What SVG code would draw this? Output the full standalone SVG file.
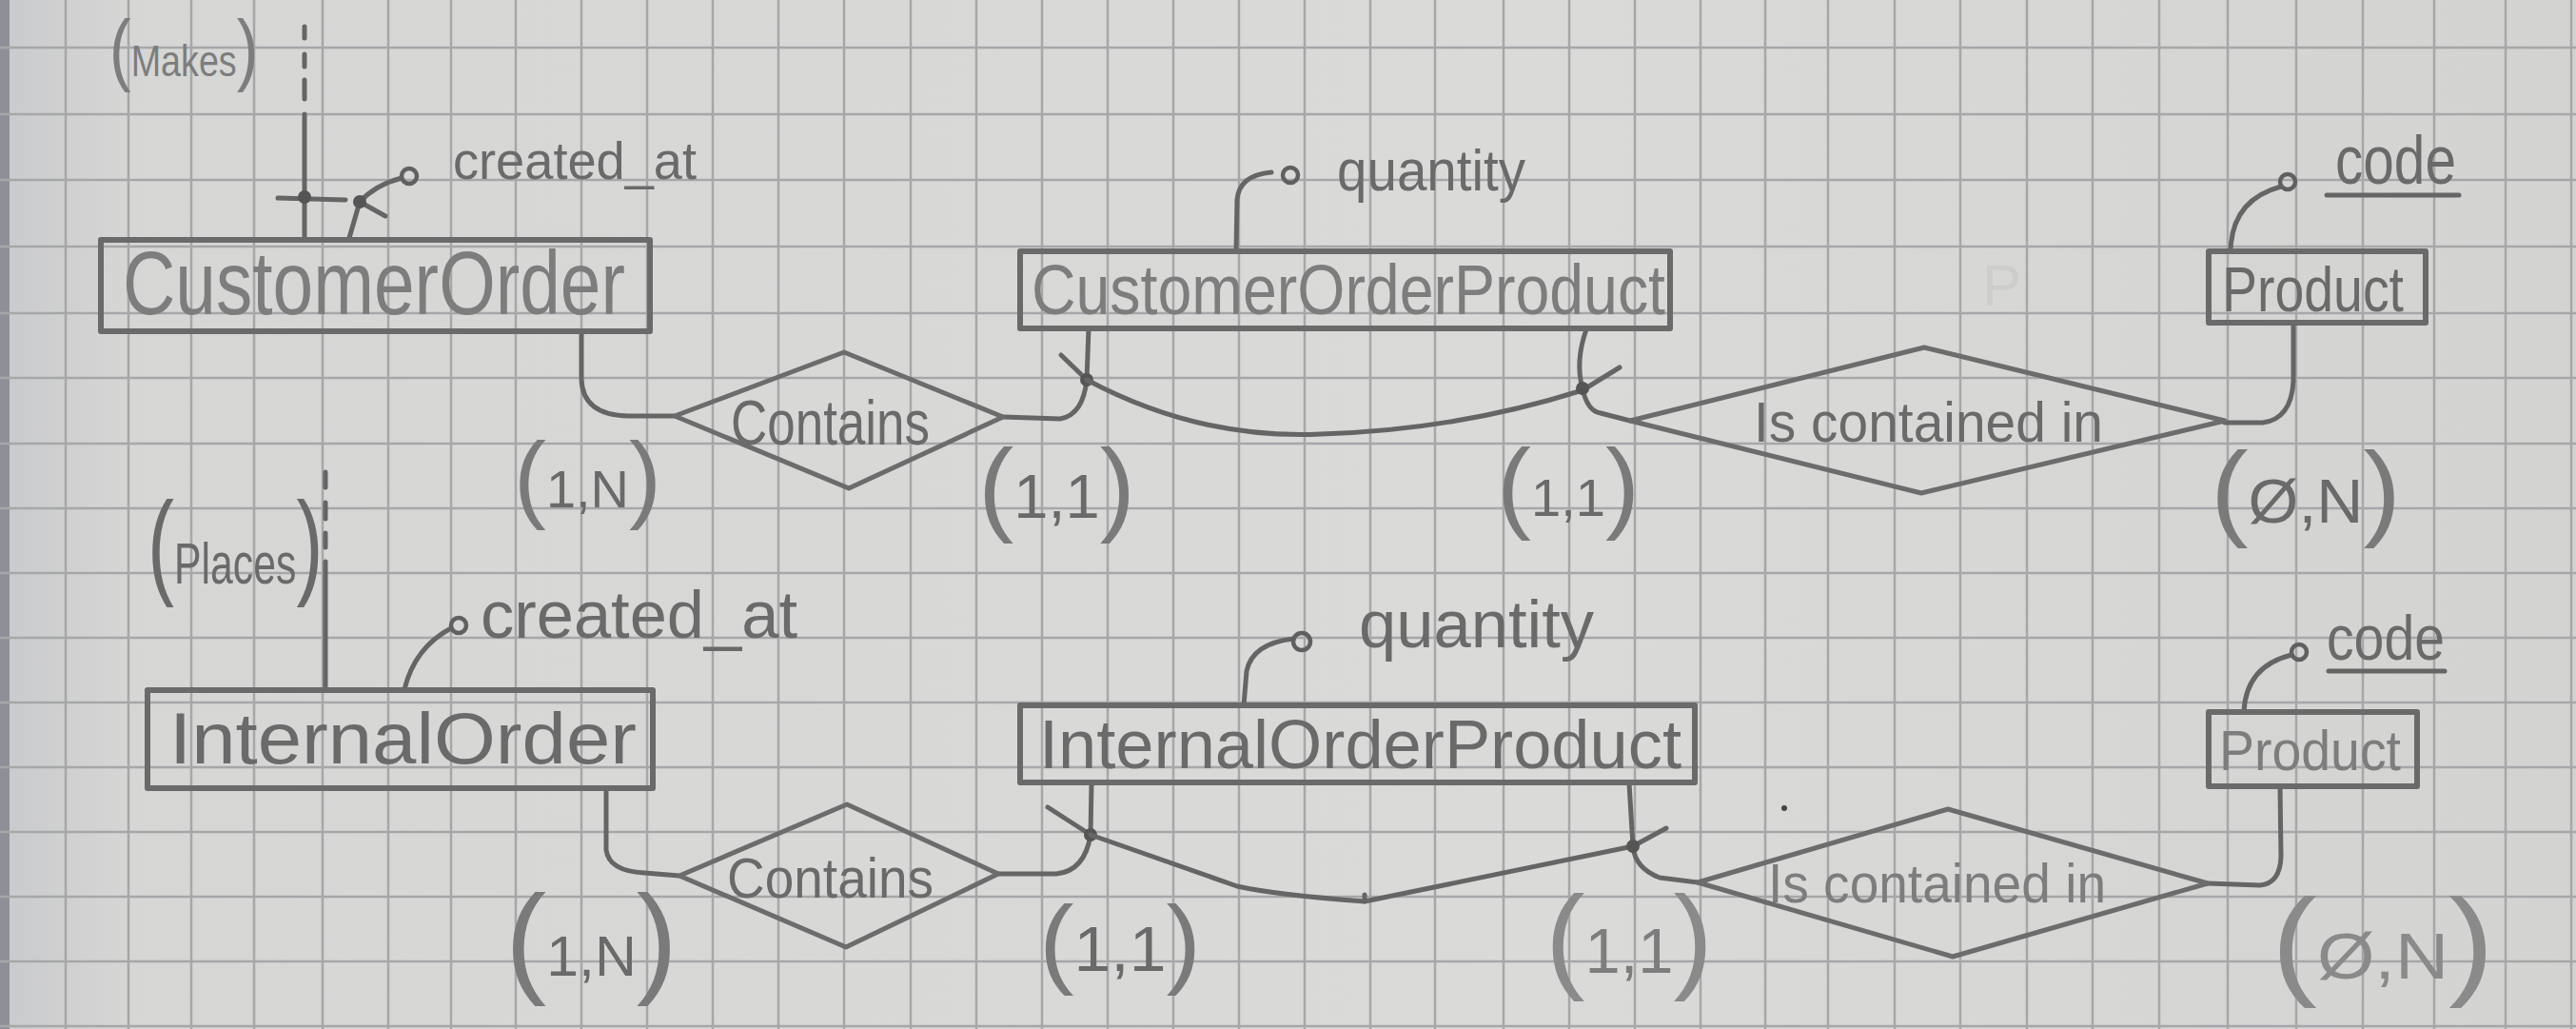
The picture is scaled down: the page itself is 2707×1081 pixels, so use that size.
<svg xmlns="http://www.w3.org/2000/svg" width="2707" height="1081" viewBox="0 0 2707 1081">
<defs>
<style>
.grid{stroke:#a6a7a9;stroke-width:2.5;fill:none}
.ln{stroke:#656565;stroke-width:5;fill:none;stroke-linecap:round;stroke-linejoin:round}
.box{stroke:#6a6a6a;stroke-width:6;fill:none;stroke-linejoin:round}
.dia{stroke:#6c6c6c;stroke-width:5;fill:none;stroke-linejoin:round}
.dot{fill:#555}
.circ{stroke:#606060;stroke-width:4.5;fill:none}
.t{font-family:'Liberation Sans',Arial,sans-serif;fill:#6a6a6a}
.lt{fill:#7d7d7d}
.fa{fill:#8a8a8a}
.p{fill:#7a7a7a}
</style>
<linearGradient id="shade" x1="0" y1="0" x2="1" y2="0">
<stop offset="0" stop-color="#c9cacc"/>
<stop offset="0.05" stop-color="#d6d6d5"/>
<stop offset="0.6" stop-color="#dadad8"/>
<stop offset="1" stop-color="#d3d3d1"/>
</linearGradient>
</defs>
<rect width="2707" height="1081" fill="url(#shade)"/>
<rect x="0" y="0" width="10" height="1081" fill="#8e9099"/>
<g id="grid" class="grid">
<path d="M69,0V1081M135,0V1081M201,0V1081M267,0V1081M339,0V1081M408,0V1081M474,0V1081M542,0V1081M611,0V1081M680,0V1081M749,0V1081M818,0V1081M887,0V1081M957,0V1081M1026,0V1081M1095,0V1081M1164,0V1081M1233,0V1081M1302,0V1081M1371,0V1081M1440,0V1081M1508,0V1081M1580,0V1081M1649,0V1081M1718,0V1081M1787,0V1081M1855,0V1081M1921,0V1081M1991,0V1081M2060,0V1081M2130,0V1081M2199,0V1081M2269,0V1081M2341,0V1081M2413,0V1081M2483,0V1081M2558,0V1081M2633,0V1081M2702,0V1081"/>
<path d="M0,50H2707M0,120H2707M0,189H2707M0,259H2707M0,329H2707M0,397H2707M0,466H2707M0,534H2707M0,602H2707M0,670H2707M0,738H2707M0,806H2707M0,874H2707M0,942H2707M0,1010H2707M0,1078H2707"/>
</g>
<text class="t" x="2083" y="321" font-size="62" style="fill:#cdcdcb">P</text>
<circle cx="1875" cy="849" r="3" fill="#444"/>

<g id="connectors">
<path class="ln" d="M320,28V40M320,57V70M320,84V104" stroke-width="4"/>
<path class="ln" d="M320,120V250"/>
<path class="ln" d="M292,208L363,210"/>
<circle class="dot" cx="320" cy="207" r="7"/>
<path class="ln" d="M367,250L378,212Q395,194 422,187"/>
<path class="ln" d="M378,212L405,227"/>
<circle class="dot" cx="378" cy="212" r="7"/>
<circle class="circ" cx="430" cy="185" r="8"/>
<path class="ln" d="M611,349L611,398Q612,436 660,437L709,437"/>
<path class="ln" d="M1054,438L1114,440Q1138,436 1142,399L1144,346"/>
<path class="ln" d="M1115,373L1142,399"/>
<circle class="dot" cx="1142" cy="399" r="7"/>
<path class="ln" d="M1142,399Q1260,462 1388,456Q1530,452 1663,410L1702,386"/>
<path class="ln" d="M1667,346Q1655,380 1663,408"/>
<path class="ln" d="M1663,408Q1668,432 1682,434L1713,442"/>
<circle class="dot" cx="1663" cy="408" r="7"/>
<path class="ln" d="M1299,264L1300,210Q1302,184 1336,181"/>
<circle class="circ" cx="1356" cy="184" r="8"/>
<path class="ln" d="M2338,444L2378,444Q2408,440 2410,400L2410,340"/>
<path class="ln" d="M2344,264Q2345,210 2397,196"/>
<circle class="circ" cx="2404" cy="191" r="8"/>

<path class="ln" d="M342,496V512M342,528V545M342,560V575" stroke-width="4"/>
<path class="ln" d="M342,590V724"/>
<path class="ln" d="M425,724Q436,680 474,660"/>
<circle class="circ" cx="482" cy="657" r="8"/>
<path class="ln" d="M637,829L637,893Q640,915 677,917L714,920"/>
<path class="ln" d="M1049,918L1110,918Q1140,915 1146,877L1147,823"/>
<path class="ln" d="M1101,848L1146,877"/>
<circle class="dot" cx="1146" cy="877" r="7"/>
<path class="ln" d="M1146,877L1300,931Q1340,940 1434,947L1716,889L1751,870"/>
<path class="ln" d="M1434,940V947" stroke-width="3"/>
<path class="ln" d="M1712,823L1716,889"/>
<path class="ln" d="M1716,889Q1718,912 1744,922L1784,927"/>
<circle class="dot" cx="1716" cy="889" r="7"/>
<path class="ln" d="M1307,741L1310,705Q1316,676 1359,671"/>
<circle class="circ" cx="1368" cy="674" r="9"/>
<path class="ln" d="M2320,928L2375,930Q2396,928 2397,900L2396,827"/>
<path class="ln" d="M2358,748Q2360,700 2408,688"/>
<circle class="circ" cx="2416" cy="685" r="8"/>
</g>

<g id="CustomerOrder">
<rect class="box" x="106" y="252" width="577" height="96"/>
<text class="t lt" x="129" y="330" font-size="95" textLength="528" lengthAdjust="spacingAndGlyphs">CustomerOrder</text>
</g>
<g id="CustomerOrderProduct">
<rect class="box" x="1072" y="264" width="683" height="81"/>
<text class="t lt" x="1084" y="330" font-size="74" textLength="666" lengthAdjust="spacingAndGlyphs">CustomerOrderProduct</text>
</g>
<g id="Product1">
<rect class="box" x="2321" y="264" width="228" height="75"/>
<text class="t" x="2335" y="327" font-size="67" textLength="191" lengthAdjust="spacingAndGlyphs">Product</text>
</g>
<g id="InternalOrder">
<rect class="box" x="155" y="725" width="531" height="103"/>
<text class="t" x="178" y="802" font-size="76" textLength="491" lengthAdjust="spacingAndGlyphs">InternalOrder</text>
</g>
<g id="InternalOrderProduct">
<rect class="box" x="1072" y="741" width="709" height="81"/>
<text class="t" x="1092" y="807" font-size="72" textLength="675" lengthAdjust="spacingAndGlyphs">InternalOrderProduct</text>
</g>
<g id="Product2">
<rect class="box" x="2321" y="748" width="219" height="78"/>
<text class="t lt" x="2332" y="809" font-size="60" textLength="191" lengthAdjust="spacingAndGlyphs">Product</text>
</g>

<g id="Contains1">
<polygon class="dia" points="709,437 887,370 1054,438 892,513"/>
<text class="t" x="768" y="467" font-size="66" textLength="209" lengthAdjust="spacingAndGlyphs">Contains</text>
</g>
<g id="IsContainedIn1">
<polygon class="dia" points="1713,442 2022,365 2338,442 2019,518"/>
<text class="t" x="1843" y="464" font-size="60" textLength="367" lengthAdjust="spacingAndGlyphs">Is contained in</text>
</g>
<g id="Contains2">
<polygon class="dia" points="714,920 890,845 1049,918 889,995"/>
<text class="t" x="764" y="943" font-size="60" textLength="217" lengthAdjust="spacingAndGlyphs">Contains</text>
</g>
<g id="IsContainedIn2">
<polygon class="dia" points="1784,927 2047,850 2320,928 2052,1005"/>
<text class="t lt" x="1858" y="948" font-size="58" textLength="355" lengthAdjust="spacingAndGlyphs">Is contained in</text>
</g>

<g id="attr-created_at-1"><text class="t" x="476" y="188" font-size="55" textLength="256" lengthAdjust="spacingAndGlyphs">created_at</text></g>
<g id="attr-quantity-1"><text class="t" x="1405" y="200" font-size="62" textLength="198" lengthAdjust="spacingAndGlyphs">quantity</text></g>
<g id="attr-code-1"><text class="t" x="2454" y="193" font-size="72" textLength="127" lengthAdjust="spacingAndGlyphs">code</text><path class="ln" d="M2445,205H2584"/></g>
<g id="attr-created_at-2"><text class="t" x="505" y="670" font-size="70" textLength="333" lengthAdjust="spacingAndGlyphs">created_at</text></g>
<g id="attr-quantity-2"><text class="t" x="1428" y="680" font-size="70" textLength="247" lengthAdjust="spacingAndGlyphs">quantity</text></g>
<g id="attr-code-2"><text class="t" x="2445" y="693" font-size="66" textLength="124" lengthAdjust="spacingAndGlyphs">code</text><path class="ln" d="M2447,705H2569" stroke-width="3"/></g>

<g id="rel-Makes"><text class="t lt" transform="translate(115,80) scale(0.82,1)" x="0" y="0"><tspan font-size="83">(</tspan><tspan font-size="46">Makes</tspan><tspan font-size="83">)</tspan></text></g>
<g id="rel-Places"><text class="t" transform="translate(155,613) scale(0.69,1)" x="0" y="0"><tspan font-size="122">(</tspan><tspan font-size="62">Places</tspan><tspan font-size="122">)</tspan></text></g>

<g id="card-1N-1"><text class="t" x="540" y="536" textLength="155" lengthAdjust="spacingAndGlyphs"><tspan class="p" font-size="102">(</tspan><tspan font-size="56" dy="-3">1,N</tspan><tspan class="p" font-size="102" dy="3">)</tspan></text></g>
<g id="card-11-1"><text class="t" x="1028" y="548" textLength="165" lengthAdjust="spacingAndGlyphs"><tspan class="p" font-size="110">(</tspan><tspan font-size="64" dy="-4">1,1</tspan><tspan class="p" font-size="110" dy="4">)</tspan></text></g>
<g id="card-11-2"><text class="t" x="1573" y="546" textLength="150" lengthAdjust="spacingAndGlyphs"><tspan class="p" font-size="106">(</tspan><tspan font-size="55" dy="-4">1,1</tspan><tspan class="p" font-size="106" dy="4">)</tspan></text></g>
<g id="card-0N-1"><text class="t" x="2323" y="553" textLength="200" lengthAdjust="spacingAndGlyphs"><tspan class="p" font-size="112">(</tspan><tspan font-size="64" dy="-4">Ø,N</tspan><tspan class="p" font-size="112" dy="4">)</tspan></text></g>
<g id="card-1N-2"><text class="t" x="531" y="1030" textLength="181" lengthAdjust="spacingAndGlyphs"><tspan class="p" font-size="128">(</tspan><tspan font-size="60" dy="-5">1,N</tspan><tspan class="p" font-size="128" dy="5">)</tspan></text></g>
<g id="card-11-3"><text class="t" x="1092" y="1024" textLength="170" lengthAdjust="spacingAndGlyphs"><tspan class="p" font-size="104">(</tspan><tspan font-size="66" dy="-4">1,1</tspan><tspan class="p" font-size="104" dy="4">)</tspan></text></g>
<g id="card-11-4"><text class="t lt" x="1624" y="1027" textLength="176" lengthAdjust="spacingAndGlyphs"><tspan class="fa" font-size="123">(</tspan><tspan font-size="66" dy="-5">1,1</tspan><tspan class="fa" font-size="123" dy="5">)</tspan></text></g>
<g id="card-0N-2"><text class="t fa" x="2387" y="1033" textLength="234" lengthAdjust="spacingAndGlyphs"><tspan font-size="126">(</tspan><tspan font-size="68" dy="-5">Ø,N</tspan><tspan font-size="126" dy="5">)</tspan></text></g>
</svg>
